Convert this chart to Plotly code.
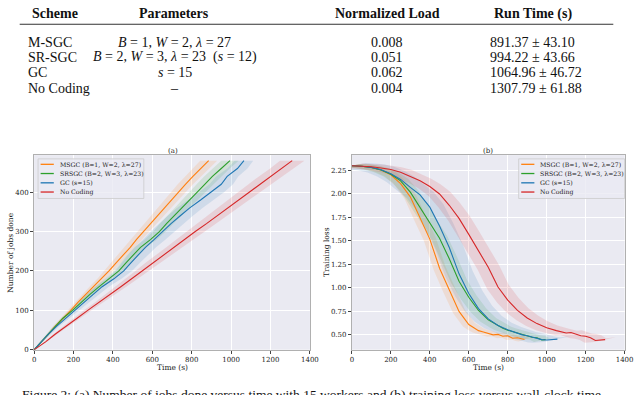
import plotly.graph_objects as go

# ---------------- data ----------------
SERIES = ["MSGC (B=1, W=2, λ=27)", "SRSGC (B=2, W=3, λ=23)", "GC (s=15)", "No Coding"]
COLORS = ["#ff7f0e", "#2ca02c", "#1f77b4", "#d62728"]
FILLS = ["rgba(255,127,14,0.13)", "rgba(44,160,44,0.13)", "rgba(31,119,180,0.13)", "rgba(214,39,40,0.13)"]

# (a) number of jobs done vs time
JOBS_A = [0, 20, 40, 60, 80, 100, 120, 140, 160, 180, 200, 220, 240, 260, 280, 300, 320, 340, 360, 380, 400, 420, 440, 460, 480]
T_MSGC_A = [0, 38, 74, 108, 148, 186, 222, 262, 300, 342, 380, 415, 452, 488, 520, 555, 590, 628, 662, 697, 732, 768, 806, 846, 886]
T_SRSGC_A = [0, 36, 72, 108, 146, 195, 238, 282, 330, 382, 430, 465, 500, 540, 592, 636, 672, 712, 750, 790, 828, 866, 905, 950, 994]
T_GC_A = [0, 36, 74, 115, 160, 205, 250, 300, 345, 405, 455, 490, 525, 565, 610, 652, 695, 742, 790, 845, 900, 950, 980, 1032, 1065]
T_NOCODING_A = [0, 58, 108, 160, 218, 272, 330, 385, 440, 495, 548, 600, 655, 712, 765, 818, 875, 930, 985, 1038, 1090, 1145, 1200, 1258, 1310]
S_MSGC_A = [0, 5, 8, 10, 12, 14, 16, 18, 19, 21, 22, 24, 25, 27, 28, 30, 31, 33, 34, 36, 37, 39, 40, 42, 43]
S_SRSGC_A = [0, 5, 8, 10, 12, 15, 17, 19, 21, 23, 25, 26, 28, 29, 31, 32, 34, 35, 37, 38, 39, 41, 42, 43, 44]
S_GC_A = [0, 6, 10, 14, 18, 22, 26, 30, 34, 38, 42, 46, 50, 54, 57, 60, 62, 64, 65, 65, 64, 60, 56, 51, 47]
S_NOCODING_A = [0, 6, 10, 13, 16, 19, 22, 25, 28, 31, 34, 36, 39, 41, 43, 45, 47, 49, 51, 53, 55, 57, 59, 60, 62]

# (b) training loss vs time
T_MSGC_B = [0, 50, 100, 150, 200, 250, 300, 350, 400, 450, 500, 550, 600, 625, 650, 675, 700, 725, 750, 775, 800, 825, 850, 870, 886]
L_MSGC_B = [2.30, 2.296, 2.283, 2.255, 2.205, 2.11, 1.97, 1.74, 1.52, 1.21, 0.97, 0.75, 0.61, 0.575, 0.545, 0.53, 0.515, 0.50, 0.505, 0.485, 0.49, 0.465, 0.47, 0.455, 0.45]
T_SRSGC_B = [0, 50, 100, 150, 200, 250, 300, 350, 400, 450, 500, 550, 600, 650, 700, 750, 775, 800, 825, 850, 875, 900, 925, 950, 975, 994]
L_SRSGC_B = [2.30, 2.296, 2.282, 2.255, 2.21, 2.14, 2.02, 1.86, 1.70, 1.53, 1.31, 1.07, 0.90, 0.76, 0.66, 0.595, 0.57, 0.55, 0.535, 0.52, 0.50, 0.49, 0.475, 0.47, 0.445, 0.45]
T_GC_B = [0, 50, 100, 150, 200, 250, 300, 350, 400, 450, 500, 550, 600, 650, 700, 750, 800, 825, 850, 875, 900, 925, 950, 975, 1000, 1025, 1055]
L_GC_B = [2.30, 2.296, 2.283, 2.258, 2.215, 2.155, 2.07, 1.99, 1.86, 1.66, 1.43, 1.15, 0.94, 0.78, 0.67, 0.60, 0.555, 0.535, 0.52, 0.50, 0.49, 0.475, 0.465, 0.45, 0.445, 0.45, 0.455]
T_NOCODING_B = [0, 50, 100, 150, 200, 250, 300, 350, 400, 450, 500, 550, 600, 650, 700, 750, 800, 850, 900, 950, 1000, 1050, 1075, 1100, 1125, 1150, 1175, 1200, 1225, 1250, 1275, 1300]
L_NOCODING_B = [2.30, 2.298, 2.29, 2.277, 2.26, 2.232, 2.19, 2.14, 2.08, 2.00, 1.88, 1.74, 1.57, 1.40, 1.22, 1.01, 0.87, 0.76, 0.68, 0.62, 0.575, 0.545, 0.53, 0.52, 0.525, 0.505, 0.49, 0.485, 0.47, 0.44, 0.445, 0.45]
STD_B = [30, 40, 70, 55]          # spread in seconds, per series
VPAD_B = [0.02, 0.02, 0.03, 0.025]  # spread in loss, per series

# table
TABLE_HEADER = ["Scheme", "Parameters", "Normalized Load", "Run Time (s)"]
TABLE_SCHEME = ["M-SGC", "SR-SGC", "GC", "No Coding"]
TABLE_PARAMS = ["<i>B</i> = 1,&nbsp;<i>W</i> = 2,&nbsp;<i>λ</i> = 27",
                "<i>B</i> = 2,&nbsp;<i>W</i> = 3,&nbsp;<i>λ</i> = 23&nbsp;&nbsp;(<i>s</i> = 12)",
                "<i>s</i> = 15", "–"]
TABLE_LOAD = ["0.008", "0.051", "0.062", "0.004"]
TABLE_RUNTIME = ["891.37 ± 43.10", "994.22 ± 43.66", "1064.96 ± 46.72", "1307.79 ± 61.88"]

CAPTION = "Figure 2: (a) Number of jobs done versus time with 15 workers and (b) training loss versus wall-clock time"

# ---------------- figure ----------------
W, H = 640, 395
def fx(p): return p / W
def fy(p): return 1 - p / H

SERIF = "DejaVu Serif"
TIMES = "Liberation Serif"

fig = go.Figure()

ta = [T_MSGC_A, T_SRSGC_A, T_GC_A, T_NOCODING_A]
sa = [S_MSGC_A, S_SRSGC_A, S_GC_A, S_NOCODING_A]
tb = [T_MSGC_B, T_SRSGC_B, T_GC_B, T_NOCODING_B]
lb = [L_MSGC_B, L_SRSGC_B, L_GC_B, L_NOCODING_B]

# bands first
for i in range(4):
    t, s = ta[i], sa[i]
    xs = [a + b for a, b in zip(t, s)] + [a - b for a, b in zip(t, s)][::-1]
    ys = JOBS_A + JOBS_A[::-1]
    fig.add_trace(go.Scatter(x=xs, y=ys, fill="toself", fillcolor=FILLS[i], line=dict(width=0),
                             mode="lines", hoverinfo="skip", xaxis="x", yaxis="y"))
for i in range(4):
    t, l, s, v = tb[i], lb[i], STD_B[i], VPAD_B[i]
    xs = [a + s for a in t] + [a - s for a in t][::-1]
    ys = [a + v for a in l] + [a - v for a in l][::-1]
    fig.add_trace(go.Scatter(x=xs, y=ys, fill="toself", fillcolor=FILLS[i], line=dict(width=0),
                             mode="lines", hoverinfo="skip", xaxis="x2", yaxis="y2"))
# lines
for i in range(4):
    fig.add_trace(go.Scatter(x=ta[i], y=JOBS_A, mode="lines", name=SERIES[i],
                             line=dict(color=COLORS[i], width=1.1), xaxis="x", yaxis="y"))
for i in range(4):
    fig.add_trace(go.Scatter(x=tb[i], y=lb[i], mode="lines", name=SERIES[i],
                             line=dict(color=COLORS[i], width=1.1), xaxis="x2", yaxis="y2"))

ax_common = dict(showgrid=True, gridcolor="white", gridwidth=1, zeroline=False,
                 showline=True, linecolor="#b0b0b0", linewidth=1, mirror=True,
                 ticks="outside", ticklen=3, tickcolor="#444", tickwidth=0.8,
                 tickfont=dict(family=SERIF, size=7, color="#222"))
ydom = [fy(353.3), fy(156.7)]
xt = list(range(0, 1401, 200))
yb_vals = [0.5, 0.75, 1.0, 1.25, 1.5, 1.75, 2.0, 2.25]

fig.update_layout(
    width=W, height=H, margin=dict(l=0, r=0, t=0, b=0),
    paper_bgcolor="white", plot_bgcolor="#EAEAF2", showlegend=False,
    xaxis=dict(domain=[fx(32.7), fx(313.3)], range=[0, 1400], tickvals=xt, anchor="y", **ax_common),
    yaxis=dict(domain=ydom, range=[0, 494], tickvals=[0, 100, 200, 300, 400], anchor="x", **ax_common),
    xaxis2=dict(domain=[fx(356), fx(633.5)], range=[0, 1400], tickvals=xt, anchor="y2", **ax_common),
    yaxis2=dict(domain=ydom, range=[0.342, 2.414], tickvals=yb_vals,
                ticktext=["%.2f" % v for v in yb_vals], anchor="x2", **ax_common),
)

ann = []
def text(x, y, s, size, family=SERIF, xa="center", ya="middle", angle=0, color="#222"):
    ann.append(dict(x=fx(x), y=fy(y), xref="paper", yref="paper", text=s, showarrow=False,
                    xanchor=xa, yanchor=ya, textangle=angle,
                    font=dict(family=family, size=size, color=color)))

# subplot titles & axis titles
text(174, 152.5, "(a)", 7)
text(495, 152.5, "(b)", 7)
text(173, 371, "Time (s)", 7.5)
text(495, 371, "Time (s)", 7.5)
text(8.5, 255, "Number of jobs done", 7.5, angle=-90)
text(330, 255, "Training loss", 7.5, angle=-90)

shapes = []
# manual legends
def legend(x0, x1, y0, y1, sx0, sx1, tx, ys):
    shapes.append(dict(type="rect", xref="paper", yref="paper", x0=fx(x0), x1=fx(x1), y0=fy(y1), y1=fy(y0),
                       fillcolor="rgba(234,234,242,0.8)", line=dict(color="#cccccc", width=0.8)))
    for i in range(4):
        shapes.append(dict(type="line", xref="paper", yref="paper", x0=fx(sx0), x1=fx(sx1),
                           y0=fy(ys[i]), y1=fy(ys[i]), line=dict(color=COLORS[i], width=1.3)))
        text(tx, ys[i], SERIES[i], 6.2, xa="left")

legend(36.7, 144.3, 160.5, 200.5, 39.3, 52.7, 56.5, [166, 175.3, 184.7, 194])
legend(525.7, 633.5, 160.5, 200.5, 528.3, 541.7, 545.7, [166, 175.3, 184.7, 194])

# table
text(54, 14, "<b>%s</b>" % TABLE_HEADER[0], 14, family=TIMES, color="#111")
text(175, 14, "<b>%s</b>" % TABLE_HEADER[1], 14, family=TIMES, color="#111")
text(392, 14, "<b>%s</b>" % TABLE_HEADER[2], 14, family=TIMES, color="#111")
text(540, 14, "<b>%s</b>" % TABLE_HEADER[3], 14, family=TIMES, color="#111")
shapes.append(dict(type="line", xref="paper", yref="paper", x0=fx(18), x1=fx(622), y0=fy(24.5), y1=fy(24.5),
                   line=dict(color="#333", width=1)))
row_y = [43, 58, 73.5, 89]
for i in range(4):
    text(24, row_y[i], TABLE_SCHEME[i], 14, family=TIMES, xa="left", color="#111")
    text(176, row_y[i], TABLE_PARAMS[i], 14, family=TIMES, color="#111")
    text(392, row_y[i], TABLE_LOAD[i], 14, family=TIMES, color="#111")
    text(495, row_y[i], TABLE_RUNTIME[i], 14, family=TIMES, xa="left", color="#111")

# caption (cut off at bottom, as in the reference)
text(18, 389, CAPTION, 13.5, family=TIMES, xa="left", ya="top", color="#111")

fig.update_layout(annotations=ann, shapes=shapes)
fig.write_html("out.html", config={"displayModeBar": False},
               post_script="document.body.style.margin='0px';")
